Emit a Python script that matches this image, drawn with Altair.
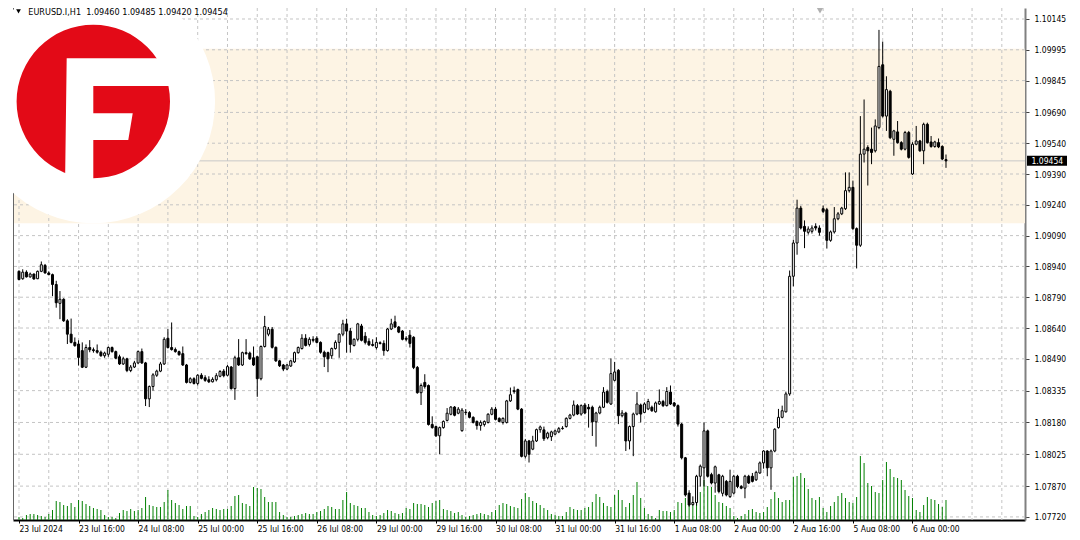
import json
import altair as alt
import pandas as pd

# ---------------- data (EURUSD H1, 23 Jul - 6 Aug 2024) ----------------
open_ = [
1.08916,1.08880,1.08912,1.08889,1.08903,1.08880,1.08916,1.08945,1.08908,1.08900,
1.08852,1.08760,1.08780,1.08675,1.08610,1.08570,1.08562,1.08530,1.08449,1.08545,
1.08534,1.08530,1.08522,1.08505,1.08512,1.08545,1.08525,1.08500,1.08465,1.08490,
1.08433,1.08450,1.08470,1.08525,1.08470,1.08295,1.08355,1.08410,1.08430,1.08465,
1.08590,1.08545,1.08535,1.08525,1.08515,1.08460,1.08375,1.08393,1.08370,1.08410,
1.08398,1.08388,1.08378,1.08388,1.08405,1.08430,1.08410,1.08450,1.08345,1.08495,
1.08460,1.08520,1.08518,1.08495,1.08500,1.08393,1.08550,1.08610,1.08634,1.08546,
1.08480,1.08460,1.08440,1.08455,1.08475,1.08520,1.08540,1.08590,1.08560,1.08585,
1.08590,1.08570,1.08522,1.08520,1.08505,1.08540,1.08570,1.08610,1.08660,1.08625,
1.08555,1.08585,1.08650,1.08600,1.08575,1.08560,1.08545,1.08568,1.08565,1.08530,
1.08635,1.08670,1.08645,1.08625,1.08590,1.08605,1.08595,1.08448,1.08325,1.08375,
1.08360,1.08170,1.08160,1.08115,1.08155,1.08190,1.08220,1.08255,1.08225,1.08140,
1.08230,1.08228,1.08205,1.08185,1.08165,1.08170,1.08180,1.08220,1.08245,1.08200,
1.08180,1.08180,1.08285,1.08335,1.08340,1.08245,1.08015,1.08090,1.08050,1.08090,
1.08145,1.08144,1.08106,1.08111,1.08123,1.08134,1.08150,1.08160,1.08200,1.08216,
1.08262,1.08221,1.08265,1.08254,1.08254,1.08183,1.08226,1.08254,1.08331,1.08270,
1.08385,1.08434,1.08213,1.08226,1.08090,1.08160,1.08221,1.08265,1.08229,1.08246,
1.08254,1.08232,1.08270,1.08282,1.08262,1.08328,1.08275,1.08262,1.08172,1.08008,
1.07836,1.07780,1.07790,1.07918,1.07959,1.08139,1.07926,1.07885,1.07925,1.07835,
1.07893,1.07819,1.07836,1.07918,1.07868,1.07860,1.07918,1.07918,1.07901,1.07934,
1.07983,1.08041,1.07959,1.08041,1.08155,1.08205,1.08232,1.08319,1.08892,1.09054,
1.09224,1.09135,1.09106,1.09111,1.09135,1.09127,1.09221,1.09216,1.09067,1.09108,
1.09172,1.09196,1.09221,1.09309,1.09325,1.09124,1.09043,1.09487,1.09519,1.09511,
1.09503,1.09616,1.09922,1.09672,1.09793,1.09559,1.09595,1.09543,1.09511,1.09592,
1.09390,1.09535,1.09551,1.09503,1.09632,1.09546,1.09524,1.09543,1.09524,1.09460,
]
high_ = [
1.08921,1.08926,1.08921,1.08910,1.08905,1.08920,1.08964,1.08952,1.08916,1.08905,
1.08870,1.08820,1.08785,1.08683,1.08686,1.08594,1.08580,1.08570,1.08560,1.08581,
1.08545,1.08560,1.08530,1.08525,1.08550,1.08550,1.08530,1.08510,1.08500,1.08495,
1.08460,1.08480,1.08530,1.08540,1.08475,1.08360,1.08420,1.08437,1.08475,1.08595,
1.08635,1.08667,1.08545,1.08530,1.08550,1.08465,1.08400,1.08400,1.08415,1.08420,
1.08410,1.08405,1.08400,1.08420,1.08435,1.08440,1.08460,1.08455,1.08505,1.08586,
1.08525,1.08586,1.08525,1.08550,1.08505,1.08555,1.08699,1.08645,1.08645,1.08550,
1.08485,1.08465,1.08465,1.08485,1.08525,1.08550,1.08610,1.08610,1.08595,1.08600,
1.08600,1.08575,1.08530,1.08525,1.08545,1.08580,1.08615,1.08680,1.08685,1.08640,
1.08590,1.08665,1.08660,1.08620,1.08590,1.08585,1.08595,1.08575,1.08580,1.08640,
1.08685,1.08700,1.08650,1.08630,1.08600,1.08630,1.08600,1.08455,1.08370,1.08415,
1.08365,1.08210,1.08165,1.08160,1.08190,1.08250,1.08260,1.08260,1.08255,1.08250,
1.08245,1.08235,1.08210,1.08190,1.08190,1.08190,1.08225,1.08255,1.08255,1.08205,
1.08205,1.08290,1.08350,1.08355,1.08345,1.08250,1.08100,1.08095,1.08115,1.08150,
1.08165,1.08160,1.08135,1.08140,1.08145,1.08158,1.08162,1.08205,1.08222,1.08287,
1.08270,1.08268,1.08275,1.08270,1.08262,1.08232,1.08262,1.08352,1.08340,1.08492,
1.08475,1.08440,1.08240,1.08232,1.08165,1.08228,1.08328,1.08272,1.08278,1.08295,
1.08262,1.08282,1.08341,1.08290,1.08352,1.08360,1.08280,1.08268,1.08178,1.08012,
1.07850,1.07820,1.07925,1.07975,1.08180,1.08145,1.07935,1.07970,1.07930,1.07925,
1.07900,1.07950,1.07925,1.07925,1.07875,1.07925,1.07925,1.07934,1.07945,1.07990,
1.08045,1.08045,1.08048,1.08152,1.08246,1.08262,1.08330,1.08920,1.09070,1.09265,
1.09235,1.09164,1.09135,1.09140,1.09150,1.09140,1.09237,1.09225,1.09115,1.09229,
1.09205,1.09230,1.09398,1.09398,1.09358,1.09130,1.09672,1.09753,1.09530,1.09616,
1.09656,1.10092,1.10035,1.09866,1.09800,1.09605,1.09648,1.09550,1.09600,1.09600,
1.09545,1.09624,1.09556,1.09640,1.09640,1.09575,1.09552,1.09563,1.09530,1.09485,
]
low_ = [
1.08873,1.08875,1.08886,1.08885,1.08875,1.08878,1.08912,1.08905,1.08897,1.08795,
1.08739,1.08683,1.08670,1.08562,1.08565,1.08549,1.08457,1.08445,1.08445,1.08522,
1.08520,1.08515,1.08500,1.08495,1.08500,1.08520,1.08488,1.08460,1.08460,1.08425,
1.08425,1.08445,1.08465,1.08465,1.08260,1.08255,1.08335,1.08402,1.08425,1.08460,
1.08540,1.08530,1.08520,1.08505,1.08455,1.08370,1.08370,1.08365,1.08360,1.08390,
1.08378,1.08372,1.08375,1.08380,1.08400,1.08400,1.08405,1.08340,1.08290,1.08455,
1.08455,1.08510,1.08485,1.08455,1.08305,1.08385,1.08545,1.08600,1.08540,1.08475,
1.08450,1.08430,1.08435,1.08450,1.08470,1.08515,1.08535,1.08550,1.08550,1.08570,
1.08565,1.08515,1.08450,1.08425,1.08490,1.08535,1.08495,1.08600,1.08520,1.08520,
1.08550,1.08575,1.08575,1.08560,1.08552,1.08550,1.08535,1.08560,1.08505,1.08525,
1.08630,1.08640,1.08615,1.08580,1.08575,1.08545,1.08440,1.08320,1.08265,1.08345,
1.08165,1.08150,1.08110,1.08025,1.08150,1.08185,1.08215,1.08210,1.08220,1.08135,
1.08215,1.08200,1.08175,1.08145,1.08140,1.08160,1.08175,1.08215,1.08190,1.08180,
1.08170,1.08175,1.08280,1.08320,1.08240,1.08010,1.08005,1.07985,1.08045,1.08085,
1.08130,1.08090,1.08098,1.08090,1.08118,1.08128,1.08145,1.08155,1.08195,1.08210,
1.08216,1.08213,1.08220,1.08155,1.08114,1.08062,1.08220,1.08250,1.08272,1.08265,
1.08380,1.08172,1.08205,1.08041,1.08049,1.08016,1.08215,1.08180,1.08225,1.08240,
1.08232,1.08228,1.08265,1.08255,1.08258,1.08265,1.08255,1.08160,1.08000,1.07819,
1.07770,1.07775,1.07775,1.07868,1.07868,1.07912,1.07878,1.07838,1.07835,1.07820,
1.07820,1.07812,1.07830,1.07860,1.07855,1.07811,1.07880,1.07888,1.07895,1.07930,
1.07955,1.07918,1.07852,1.08035,1.08150,1.08200,1.08228,1.08310,1.08843,1.08997,
1.09120,1.09029,1.09095,1.09100,1.09115,1.09090,1.09200,1.09027,1.09060,1.09100,
1.09165,1.09190,1.09215,1.09300,1.09118,1.08930,1.09035,1.09446,1.09334,1.09438,
1.09495,1.09608,1.09665,1.09600,1.09560,1.09479,1.09538,1.09505,1.09505,1.09465,
1.09385,1.09530,1.09498,1.09438,1.09538,1.09518,1.09518,1.09516,1.09458,1.09420,
]
close_ = [
1.08876,1.08912,1.08889,1.08903,1.08879,1.08916,1.08948,1.08908,1.08900,1.08852,
1.08763,1.08780,1.08675,1.08610,1.08570,1.08554,1.08497,1.08449,1.08545,1.08534,
1.08530,1.08522,1.08505,1.08518,1.08545,1.08525,1.08493,1.08465,1.08490,1.08433,
1.08450,1.08470,1.08525,1.08470,1.08295,1.08355,1.08412,1.08430,1.08465,1.08585,
1.08545,1.08535,1.08525,1.08510,1.08460,1.08375,1.08393,1.08370,1.08410,1.08395,
1.08385,1.08378,1.08390,1.08408,1.08428,1.08408,1.08452,1.08345,1.08495,1.08460,
1.08520,1.08515,1.08490,1.08460,1.08393,1.08550,1.08647,1.08634,1.08546,1.08480,
1.08456,1.08440,1.08460,1.08480,1.08520,1.08545,1.08590,1.08555,1.08585,1.08580,
1.08570,1.08522,1.08500,1.08490,1.08540,1.08570,1.08610,1.08660,1.08625,1.08560,
1.08585,1.08660,1.08580,1.08570,1.08558,1.08555,1.08570,1.08565,1.08530,1.08635,
1.08660,1.08645,1.08620,1.08585,1.08585,1.08565,1.08448,1.08325,1.08360,1.08355,
1.08170,1.08155,1.08115,1.08155,1.08185,1.08225,1.08255,1.08215,1.08245,1.08240,
1.08228,1.08205,1.08180,1.08165,1.08180,1.08185,1.08220,1.08245,1.08195,1.08185,
1.08200,1.08285,1.08315,1.08330,1.08245,1.08015,1.08090,1.08025,1.08090,1.08145,
1.08158,1.08101,1.08128,1.08134,1.08139,1.08150,1.08152,1.08200,1.08216,1.08265,
1.08221,1.08262,1.08226,1.08246,1.08183,1.08226,1.08254,1.08328,1.08278,1.08418,
1.08426,1.08213,1.08226,1.08090,1.08160,1.08221,1.08270,1.08221,1.08270,1.08282,
1.08237,1.08275,1.08282,1.08262,1.08331,1.08270,1.08262,1.08172,1.08008,1.07827,
1.07778,1.07790,1.07918,1.07967,1.08139,1.07918,1.07885,1.07964,1.07844,1.07918,
1.07827,1.07893,1.07918,1.07868,1.07860,1.07918,1.07885,1.07893,1.07937,1.07983,
1.08041,1.07959,1.08041,1.08147,1.08205,1.08237,1.08319,1.08892,1.09054,1.09224,
1.09127,1.09111,1.09122,1.09127,1.09127,1.09106,1.09208,1.09067,1.09108,1.09172,
1.09196,1.09224,1.09309,1.09325,1.09124,1.09043,1.09487,1.09511,1.09503,1.09495,
1.09624,1.09914,1.09672,1.09801,1.09567,1.09600,1.09543,1.09511,1.09592,1.09471,
1.09535,1.09551,1.09503,1.09632,1.09543,1.09524,1.09546,1.09522,1.09463,1.09454,
]
# tick volume, in hundreds of ticks
volume_ = [
3,2,5,6,6,5,4,3,6,10,
19,18,15,14,17,13,20,19,16,14,
12,11,10,5,3,3,2,7,10,9,
11,9,10,12,23,15,14,13,13,18,
30,20,17,15,11,14,14,4,3,6,
8,10,12,11,10,11,11,14,24,25,
17,16,14,33,32,31,23,18,18,18,
8,5,3,3,4,5,6,7,6,6,
8,9,11,14,13,11,11,20,28,17,
15,14,12,12,8,5,4,5,7,10,
9,7,6,7,12,11,17,16,16,15,
13,17,19,20,11,10,9,7,8,5,
3,4,5,6,7,6,5,8,10,15,
17,16,14,13,12,21,27,23,19,17,
15,12,10,6,5,4,4,8,13,11,
10,10,12,13,18,26,23,17,14,13,
25,30,20,13,17,25,38,22,12,6,
4,2,10,9,9,8,10,18,17,22,
27,18,17,28,40,34,33,25,18,17,
14,12,4,2,4,6,10,11,8,7,
8,13,21,28,22,18,20,20,43,44,
47,42,31,22,20,23,12,8,14,18,
24,27,22,18,17,23,64,57,37,34,
28,27,40,58,51,43,42,40,30,24,
22,10,8,15,23,21,20,16,13,20,
]

x_tick_bars = [0, 16, 32, 48, 64, 80, 96, 112, 128, 144, 160, 176, 192, 208, 224, 240]
x_tick_labels = ["23 Jul 2024", "23 Jul 16:00", "24 Jul 08:00", "25 Jul 00:00", "25 Jul 16:00",
                 "26 Jul 08:00", "29 Jul 00:00", "29 Jul 16:00", "30 Jul 08:00", "31 Jul 00:00",
                 "31 Jul 16:00", "1 Aug 08:00", "2 Aug 00:00", "2 Aug 16:00", "5 Aug 08:00",
                 "6 Aug 00:00"]
y_ticks = [1.07720, 1.07870, 1.08025, 1.08180, 1.08335, 1.08490, 1.08640, 1.08790, 1.08940,
           1.09090, 1.09240, 1.09390, 1.09540, 1.09690, 1.09845, 1.09995, 1.10145]
grid_bars = list(range(0, 265, 8))
last_price = 1.09454
zone = [1.09150, 1.10000]
header = "EURUSD.I,H1\u00a0\u00a01.09460 1.09485 1.09420 1.09454"

# ---------------- layout ----------------
W, H = 1012, 512
FONT = "DejaVu Sans Condensed, DejaVu Sans, sans-serif"

n = len(close_)
df = pd.DataFrame({"bar": list(range(n)), "open": open_, "high": high_, "low": low_,
                   "close": close_, "volume": volume_})
df["fill"] = ["#ffffff" if c >= o else "#000000" for o, c in zip(open_, close_)]

x_scale = alt.Scale(domain=[-0.266, 268.88], nice=False, zero=False)
y_scale = alt.Scale(domain=[1.07705, 1.101985], nice=False, zero=False)

x_axis = alt.Axis(values=x_tick_bars,
                  labelExpr=f"{json.dumps(x_tick_labels)}[round(datum.value / 16)]",
                  grid=False, domainColor="#000000", domainWidth=2, tickColor="#000000",
                  tickSize=3, labelAlign="left", labelBaseline="top", labelPadding=1,
                  labelFont=FONT, labelFontSize=8.5, labelColor="#000000",
                  title=None, labelFlush=False, labelOverlap=False)
y_axis = alt.Axis(orient="right", values=y_ticks, format=".5f", grid=False,
                  domainColor="#808080", domainWidth=2, tickColor="#404040", tickSize=4,
                  labelPadding=5, labelFont=FONT, labelFontSize=8.5, labelColor="#000000",
                  title=None, labelFlush=False, labelOverlap=False)

def X(field="bar"):
    return alt.X(f"{field}:Q", scale=x_scale, axis=x_axis)

def Y(field, axis=None):
    return alt.Y(f"{field}:Q", scale=y_scale, axis=axis)

one = pd.DataFrame({"k": [0]})

band = alt.Chart(pd.DataFrame({"lo": [zone[0]], "hi": [zone[1]]})).mark_rect(
    color="#fdf4e4").encode(x=alt.value(0), x2=alt.value(W), y=Y("lo"), y2="hi:Q")

hgrid = alt.Chart(pd.DataFrame({"p": y_ticks})).mark_rule(
    color="#c4c4c4", strokeDash=[3, 3], strokeWidth=1).encode(y=Y("p"))

vgrid = alt.Chart(pd.DataFrame({"bar": grid_bars})).mark_rule(
    color="#c4c4c4", strokeDash=[3, 3], strokeWidth=1).encode(x=X())

pline = alt.Chart(pd.DataFrame({"p": [last_price]})).mark_rule(
    color="#c8c8c8", strokeWidth=1).encode(y=Y("p"))

frame = alt.Chart(one).mark_rule(color="#666666", strokeWidth=1).encode(
    x=alt.value(0.5), y=alt.value(0), y2=alt.value(H))

vol = alt.Chart(df).mark_rule(color="#008000", strokeWidth=1).encode(
    x=X(),
    y=alt.Y("volume:Q", scale=alt.Scale(domain=[0, 512], nice=False, zero=True), axis=None),
    y2=alt.value(H))

wicks = alt.Chart(df).mark_rule(color="#000000", strokeWidth=1).encode(
    x=X(), y=Y("low", axis=y_axis), y2="high:Q")

bodies = alt.Chart(df).mark_bar(size=2, stroke="#000000", strokeWidth=1).encode(
    x=X(), y=Y("open"), y2="close:Q", fill=alt.Fill("fill:N", scale=None))

# logo (decoration)
LX, LY = 80.3, 93.5
logo_bg = alt.Chart(one).mark_point(shape="circle", filled=True, fill="#ffffff", size=59292,
                                    opacity=1, strokeWidth=0).encode(
    x=alt.value(LX), y=alt.value(LY))
logo_red = alt.Chart(one).mark_point(shape="circle", filled=True, fill="#e30a17", size=23531,
                                     opacity=1, strokeWidth=0).encode(
    x=alt.value(LX), y=alt.value(LY))
f_path = ("M -0.347 -0.563 L 1.3 -0.563 L 1.3 -0.202 L 0 -0.202 L 0 0.154 L 0.514 0.154 "
          "L 0.456 0.502 L 0 0.502 L 0 1.2 L -0.37 1.2 Z")
logo_f = alt.Chart(one).mark_point(shape=f_path, filled=True, fill="#ffffff", size=23531,
                                   opacity=1, strokeWidth=0).encode(
    x=alt.value(LX), y=alt.value(LY))

head_tri = alt.Chart(one).mark_point(shape="triangle-down", filled=True, fill="#000000",
                                     size=22, opacity=1, strokeWidth=0).encode(
    x=alt.value(5.5), y=alt.value(3.4))
head_txt = alt.Chart(one).mark_text(text=header, align="left", baseline="alphabetic",
                                    font=FONT, fontSize=9, color="#000000").encode(
    x=alt.value(15.3), y=alt.value(7))

shift_mark = alt.Chart(one).mark_point(shape="triangle-down", filled=True, fill="#b0b0b0",
                                       size=45, opacity=1, strokeWidth=0).encode(
    x=alt.value(807), y=alt.value(2.5))

pdf = pd.DataFrame({"p": [last_price], "t": ["%.5f" % last_price]})
pbox = alt.Chart(pdf).mark_rect(color="#000000", yOffset=-5, y2Offset=5).encode(
    x=alt.value(W + 2), x2=alt.value(W + 42), y=Y("p"), y2="p:Q")
ptxt = alt.Chart(pdf).mark_text(align="left", baseline="middle", font=FONT, fontSize=8.5,
                                color="#ffffff").encode(
    x=alt.value(W + 6.5), y=Y("p"), text="t:N")

chart = alt.layer(
    band, hgrid, vgrid, pline, frame, vol, wicks, bodies,
    logo_bg, logo_red, logo_f, head_tri, head_txt, shift_mark, pbox, ptxt
).resolve_scale(y="independent").properties(
    width=W, height=H,
    padding={"left": 5, "top": 0, "right": 47, "bottom": 12},
    autosize=alt.AutoSizeParams(type="none"),
    background="#ffffff",
).configure_view(stroke=None)

chart.save("out.html", embed_options={"renderer": "svg", "actions": False})
